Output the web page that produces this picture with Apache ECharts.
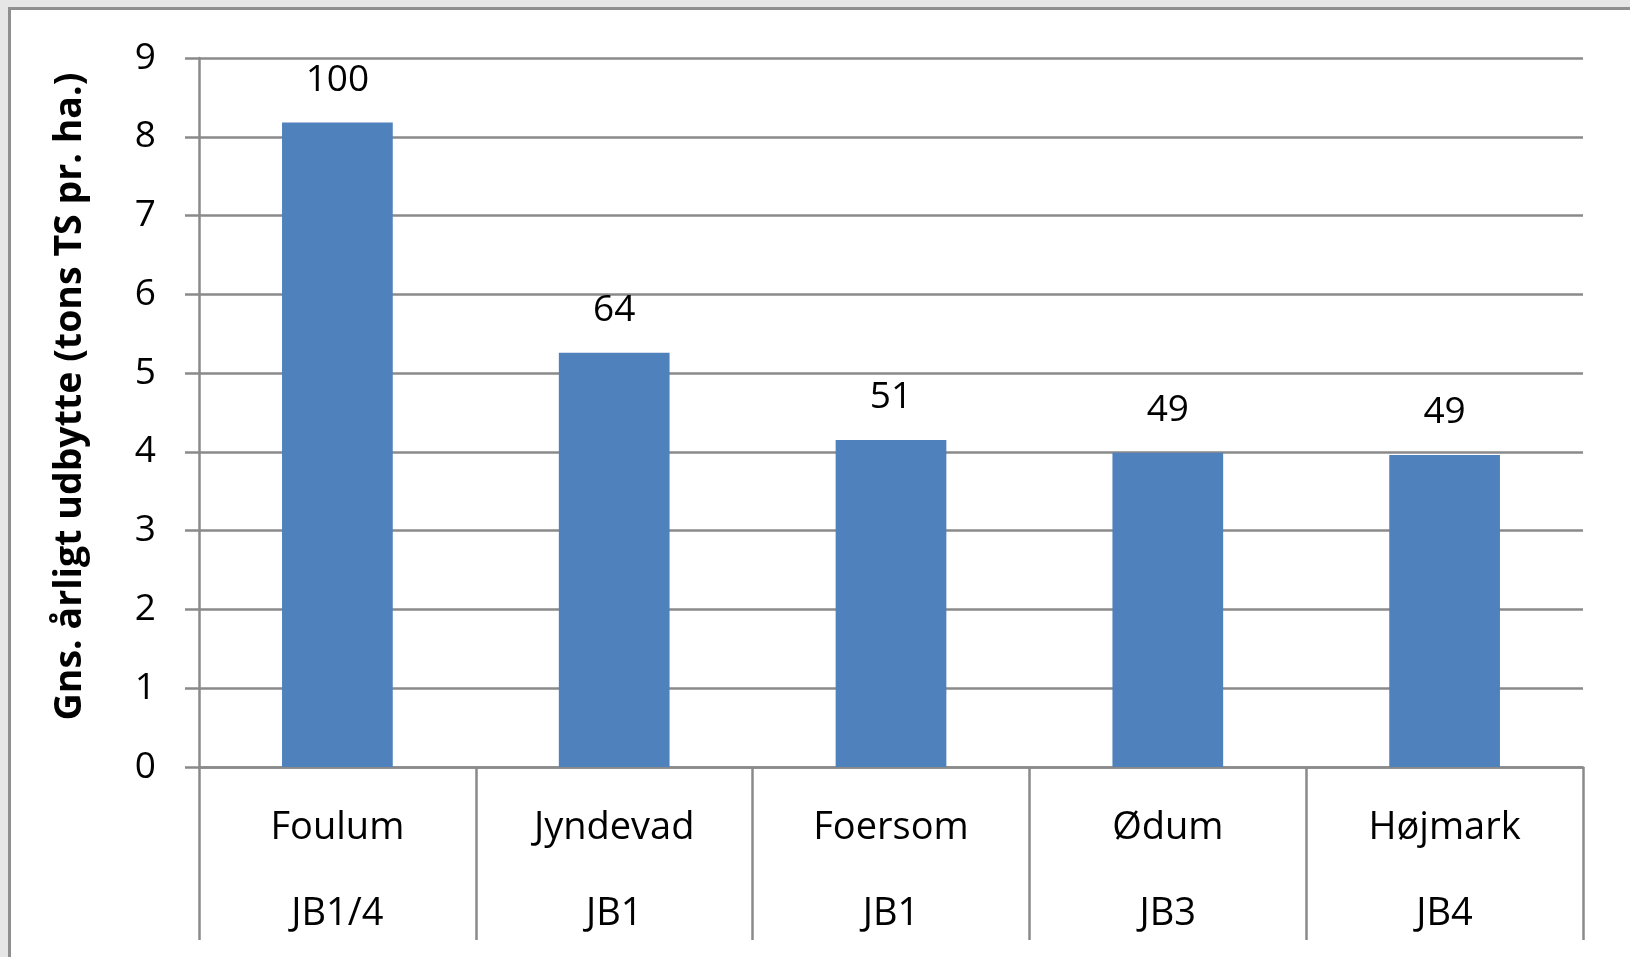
<!DOCTYPE html>
<html>
<head>
<meta charset="utf-8">
<script src="https://cdn.jsdelivr.net/npm/echarts@6/dist/echarts.min.js"></script>
<style>
  html, body { margin: 0; padding: 0; background: #e6e6e6; }
  #frame { position: absolute; left: 8px; top: 7px; width: 1622px; height: 950px;
           background: #ffffff; border-left: 3px solid #8f8f8f; border-top: 3px solid #8f8f8f; box-sizing: border-box; }
  #chart { position: absolute; left: 0; top: 0; width: 1630px; height: 957px; }
</style>
</head>
<body>
<div id="frame"></div>
<div id="chart"></div>
<script>
const sites = ['Foulum', 'Jyndevad', 'Foersom', 'Ødum', 'Højmark'];
const soilTypes = ['JB1/4', 'JB1', 'JB1', 'JB3', 'JB4'];
const yieldValues = [8.18, 5.26, 4.15, 3.99, 3.96];
const relativeLabels = [100, 64, 51, 49, 49];
const yTicks = [0, 1, 2, 3, 4, 5, 6, 7, 8, 9];

const FONT = '"Open Sans", sans-serif';
const chart = echarts.init(document.getElementById('chart'), null, { renderer: 'canvas' });
chart.setOption({
  backgroundColor: 'transparent',
  animation: false,
  grid: { left: 199, right: 47, top: 58, bottom: 189 },
  xAxis: {
    type: 'category',
    data: sites,
    axisLine: { show: true, lineStyle: { color: '#8a8a8a', width: 2.5 } },
    axisTick: { show: true, interval: 0, length: 173, lineStyle: { color: '#8a8a8a', width: 2.5 } },
    axisLabel: {
      interval: 0,
      margin: 18,
      color: '#000',
      fontFamily: FONT,
      fontSize: 38,
      lineHeight: 86,
      formatter: function (v, i) { return v + '\n' + soilTypes[i]; }
    }
  },
  yAxis: {
    type: 'value',
    min: yTicks[0],
    max: yTicks[yTicks.length - 1],
    interval: 1,
    name: 'Gns. årligt udbytte (tons TS pr. ha.)',
    nameLocation: 'middle',
    nameRotate: 90,
    nameGap: 110,
    nameTextStyle: { color: '#000', fontFamily: FONT, fontSize: 37.5, fontWeight: 'bold', padding: [0, 0, 0, 32] },
    axisLine: { show: true, lineStyle: { color: '#8a8a8a', width: 2.5 } },
    axisTick: { show: true, length: 14, lineStyle: { color: '#8a8a8a', width: 2.5 } },
    axisLabel: { margin: 43, color: '#000', fontFamily: FONT, fontSize: 37 },
    splitLine: { show: true, lineStyle: { color: '#8a8a8a', width: 2.5 } }
  },
  series: [{
    type: 'bar',
    data: yieldValues,
    barWidth: '40%',
    itemStyle: { color: '#4f81bd' },
    label: {
      show: true,
      position: 'top',
      distance: 24,
      color: '#000',
      fontFamily: FONT,
      fontSize: 37,
      formatter: function (p) { return String(relativeLabels[p.dataIndex]); }
    }
  }]
});
</script>
</body>
</html>
